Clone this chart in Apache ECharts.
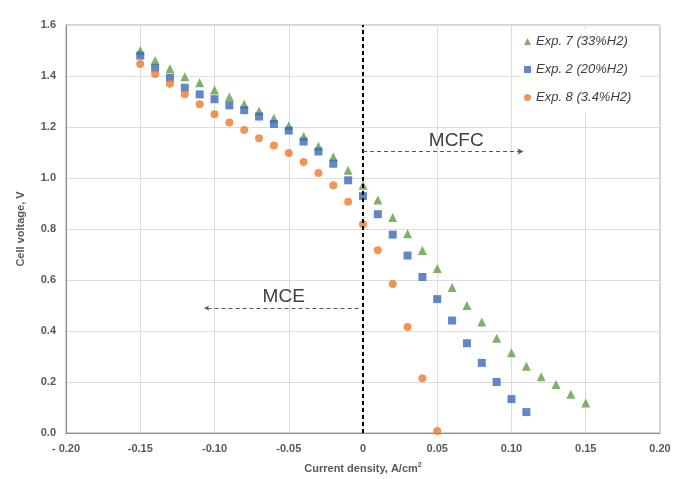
<!DOCTYPE html>
<html>
<head>
<meta charset="utf-8">
<script src="https://cdn.jsdelivr.net/npm/echarts@6/dist/echarts.min.js"></script>
<style>
  html, body { margin: 0; padding: 0; background: #fff; }
  #chart { width: 680px; height: 479px; }
</style>
</head>
<body>
<div id="chart"></div>
<script>
// current density, A/cm2
var currentGreen = [-0.15, -0.14, -0.13, -0.12, -0.11, -0.10, -0.09, -0.08, -0.07, -0.06, -0.05, -0.04, -0.03, -0.02, -0.01, 0,
  0.01, 0.02, 0.03, 0.04, 0.05, 0.06, 0.07, 0.08, 0.09, 0.10, 0.11, 0.12, 0.13, 0.14, 0.15];
var voltageGreen = [1.50, 1.461, 1.428, 1.397, 1.374, 1.345, 1.318, 1.289, 1.263, 1.234, 1.205, 1.164, 1.125, 1.082, 1.03, 0.972,
  0.914, 0.845, 0.781, 0.716, 0.645, 0.571, 0.50, 0.435, 0.372, 0.315, 0.262, 0.221, 0.19, 0.152, 0.118];

var currentBlue = [-0.15, -0.14, -0.13, -0.12, -0.11, -0.10, -0.09, -0.08, -0.07, -0.06, -0.05, -0.04, -0.03, -0.02, -0.01, 0,
  0.01, 0.02, 0.03, 0.04, 0.05, 0.06, 0.07, 0.08, 0.09, 0.10, 0.11];
var voltageBlue = [1.48, 1.432, 1.393, 1.354, 1.328, 1.309, 1.285, 1.266, 1.241, 1.212, 1.186, 1.143, 1.104, 1.056, 0.991, 0.929,
  0.858, 0.778, 0.696, 0.612, 0.525, 0.441, 0.352, 0.275, 0.2, 0.133, 0.082];

var currentOrange = [-0.15, -0.14, -0.13, -0.12, -0.11, -0.10, -0.09, -0.08, -0.07, -0.06, -0.05, -0.04, -0.03, -0.02, -0.01, 0,
  0.01, 0.02, 0.03, 0.04, 0.05];
var voltageOrange = [1.447, 1.408, 1.37, 1.328, 1.289, 1.25, 1.218, 1.188, 1.156, 1.127, 1.098, 1.063, 1.02, 0.972, 0.907, 0.819,
  0.717, 0.584, 0.416, 0.215, 0.008];

var seriesNames = ['Exp. 7 (33%H2)', 'Exp. 2 (20%H2)', 'Exp. 8 (3.4%H2)'];
var xTickLabels = ['- 0.20', '-0.15', '-0.10', '-0.05', '0', '0.05', '0.10', '0.15', '0.20'];

function pairs(xs, ys) {
  return xs.map(function (x, i) { return [x, ys[i]]; });
}

var labelColor = '#595959';
var arrowStyle = { color: '#595959', width: 1, type: [4, 3] };

var chart = echarts.init(document.getElementById('chart'));
chart.setOption({
  animation: false,
  textStyle: { fontFamily: 'Liberation Sans, Arial, sans-serif' },
  grid: {
    left: 66, right: 20, top: 25, bottom: 42,
    show: true, borderColor: '#a6a6a6', borderWidth: 1
  },
  legend: {
    orient: 'vertical',
    left: 520, top: 30,
    data: seriesNames,
    itemWidth: 7, itemHeight: 7, itemGap: 15,
    backgroundColor: '#fff',
    padding: [5, 8, 8, 4],
    textStyle: { fontSize: 13, fontStyle: 'italic', color: '#404040' }
  },
  xAxis: {
    type: 'value',
    min: -0.2, max: 0.2, interval: 0.05,
    axisLine: { show: true, onZero: false, lineStyle: { color: '#8c8c8c' } },
    axisTick: { show: false },
    splitLine: { show: true, lineStyle: { color: '#dcdcdc' } },
    axisLabel: {
      color: labelColor, fontSize: 11, fontWeight: 'bold', margin: 10,
      formatter: function (v) { return xTickLabels[Math.round((v + 0.2) / 0.05)]; }
    },
    name: 'Current density, A/cm{sup|2}',
    nameLocation: 'middle', nameGap: 29,
    nameTextStyle: {
      color: labelColor, fontSize: 11, fontWeight: 'bold',
      rich: { sup: { fontSize: 7, fontWeight: 'bold', color: labelColor, verticalAlign: 'top', padding: [0, 0, 6, 0] } }
    }
  },
  yAxis: {
    type: 'value',
    min: 0, max: 1.6, interval: 0.2,
    axisLine: { show: true, onZero: false, lineStyle: { color: '#8c8c8c' } },
    axisTick: { show: false },
    splitLine: { show: true, lineStyle: { color: '#dcdcdc' } },
    axisLabel: {
      color: labelColor, fontSize: 11, fontWeight: 'bold', margin: 10,
      formatter: function (v) { return v.toFixed(1); }
    },
    name: 'Cell voltage, V',
    nameLocation: 'middle', nameGap: 40,
    nameTextStyle: { color: labelColor, fontSize: 11, fontWeight: 'bold' }
  },
  series: [
    {
      name: seriesNames[0], type: 'scatter',
      symbol: 'triangle', symbolSize: 9,
      itemStyle: { color: '#5F9E40' },
      data: pairs(currentGreen, voltageGreen),
      markLine: {
        silent: true, animation: false,
        label: { show: false },
        data: [
          [{ coord: [0, 0], symbol: 'none', lineStyle: { color: '#000', width: 2, type: [4, 3] } },
           { coord: [0, 1.6], symbol: 'none' }],
          [{ coord: [0, 1.104], symbol: 'none', lineStyle: arrowStyle },
           { coord: [0.108, 1.104], symbol: 'arrow', symbolSize: [5, 6] }],
          [{ coord: [-0.003, 0.49], symbol: 'none', lineStyle: arrowStyle },
           { coord: [-0.107, 0.49], symbol: 'arrow', symbolSize: [4, 5] }]
        ]
      },
      markPoint: {
        silent: true, animation: false,
        symbol: 'circle', symbolSize: 0,
        label: { show: true, color: '#404040', fontSize: 19, fontFamily: 'Liberation Sans, Arial, sans-serif' },
        data: [
          { coord: [0.0628, 1.147], value: 'MCFC', label: { formatter: 'MCFC' } },
          { coord: [-0.0534, 0.535], value: 'MCE', label: { formatter: 'MCE' } }
        ]
      }
    },
    {
      name: seriesNames[1], type: 'scatter',
      symbol: 'rect', symbolSize: 8,
      itemStyle: { color: '#3C68BE' },
      data: pairs(currentBlue, voltageBlue)
    },
    {
      name: seriesNames[2], type: 'scatter',
      symbol: 'circle', symbolSize: 8,
      itemStyle: { color: '#EE7A2C' },
      data: pairs(currentOrange, voltageOrange)
    }
  ]
});
</script>
</body>
</html>
